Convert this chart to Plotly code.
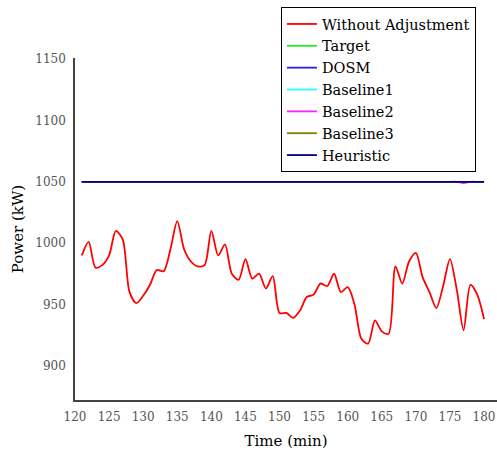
import plotly.graph_objects as go

# Time axis (minutes) and measured power without adjustment (kW)
time_min = list(range(121, 181))
without_adjustment = [
    990, 1001, 980, 982, 990, 1010, 1003, 960, 951, 957,
    966, 978, 977, 995, 1018, 995, 985, 981, 982, 1010,
    990, 999, 975, 970, 987, 971, 975, 963, 973, 943,
    943, 939, 945, 956, 958, 967, 965, 975, 960, 964,
    950, 922, 918, 937, 928, 926, 981, 967, 985, 992,
    972, 960, 947, 965, 987, 962, 929, 966, 958, 938,
]

# Regulated strategies all hold the 1050 kW target
target = [1050] * len(time_min)
dosm = [1050] * len(time_min)
baseline1 = [1050] * len(time_min)
baseline2 = [1050] * len(time_min)
baseline2[time_min.index(177)] = 1049
baseline3 = [1050] * len(time_min)
heuristic = [1050] * len(time_min)

series_names = ["Without Adjustment", "Target", "DOSM", "Baseline1",
                "Baseline2", "Baseline3", "Heuristic"]
series_values = [without_adjustment, target, dosm, baseline1,
                 baseline2, baseline3, heuristic]
series_colors = ["#ff0000", "#22ee22", "#2222ee", "#22ffff",
                 "#ff22ff", "#808000", "#000080"]

x_ticks = list(range(120, 181, 5))
y_ticks = [900, 950, 1000, 1050, 1100, 1150]

fig = go.Figure()
for name, vals, color in zip(series_names, series_values, series_colors):
    fig.add_trace(go.Scatter(
        x=time_min, y=vals, name=name, mode="lines",
        line=dict(color=color, width=1.8, shape="spline", smoothing=0.8),
    ))

serif = "DejaVu Serif"
fig.update_layout(
    width=497, height=455,
    margin=dict(l=75, r=0, t=58, b=55),
    paper_bgcolor="white", plot_bgcolor="white",
    font=dict(family=serif, color="black"),
    showlegend=True,
    legend=dict(
        x=0.488, y=1.149, xanchor="left", yanchor="top",
        bgcolor="white", bordercolor="black", borderwidth=1,
        font=dict(family=serif, size=14.5, color="black"),
        tracegroupgap=0, itemwidth=30,
    ),
    xaxis=dict(
        range=[120, 181.9], tickvals=x_ticks,
        showgrid=False, zeroline=False,
        showline=True, linecolor="#444", linewidth=1.5,
        ticks="outside", ticklen=5, tickcolor="rgba(0,0,0,0)",
        tickfont=dict(family=serif, size=12, color="#555"),
        title=dict(text="Time (min)", font=dict(family=serif, size=15, color="black"),
                   standoff=12),
    ),
    yaxis=dict(
        range=[872, 1151], tickvals=y_ticks,
        showgrid=False, zeroline=False,
        showline=True, linecolor="#444", linewidth=1.5,
        ticks="outside", ticklen=5, tickcolor="rgba(0,0,0,0)",
        tickfont=dict(family=serif, size=12, color="#555"),
        title=dict(text="Power (kW)", font=dict(family=serif, size=15, color="black"),
                   standoff=8),
    ),
)

fig.write_html("out.html")
